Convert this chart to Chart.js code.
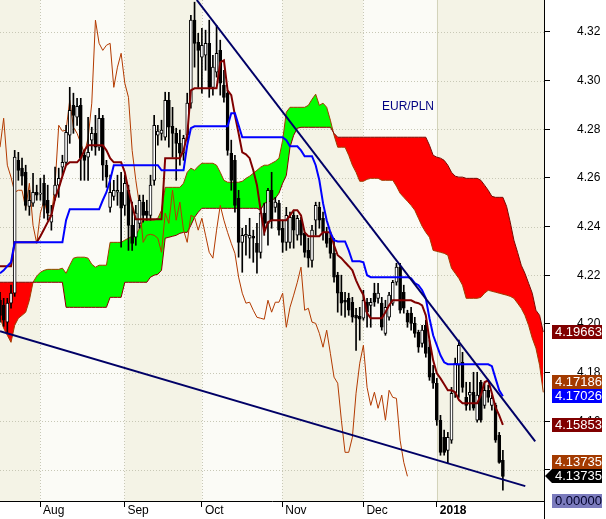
<!DOCTYPE html>
<html>
<head>
<meta charset="utf-8">
<title>EUR/PLN</title>
<script src="https://cdn.jsdelivr.net/npm/chart.js@4.4.1/dist/chart.umd.min.js"></script>
<style>
  html, body { margin: 0; padding: 0; background: #fff; }
  #wrap { width: 606px; height: 519px; }
</style>
</head>
<body>
<div id="wrap"><canvas id="chart" width="606" height="519"></canvas></div>
<script>
// ===== DATA =====
const symbol = 'EUR/PLN';
const LAG = 26; // chikou shift in bars

const monthTicks = [10.9, 33.9, 55, 76.9, 99, 119];
const monthLabels = ['Aug', 'Sep', 'Oct', 'Nov', 'Dec', '2018'];
const priceTicks = [4.14, 4.16, 4.18, 4.20, 4.22, 4.24, 4.26, 4.28, 4.30, 4.32];

const opens = [4.2097,4.2076,4.2007,4.2085,4.2126,4.2672,4.2640,4.2623,4.2483,4.2496,
  4.2541,4.2533,4.2578,4.2508,4.2418,4.2529,4.2570,4.2644,4.2664,4.2775,
  4.2898,4.2849,4.2898,4.2693,4.2685,4.2755,4.2783,4.2726,4.2845,4.2652,
  4.2479,4.2524,4.2541,4.2541,4.2487,4.2549,4.2405,4.2356,4.2413,4.2500,
  4.2463,4.2446,4.2590,4.2775,4.2783,4.2767,4.2919,4.2812,4.2783,4.2742,
  4.2701,4.2775,4.2907,4.3248,4.3157,4.3096,4.3104,4.3153,4.2972,4.3034,
  4.3124,4.2981,4.2948,4.2701,4.2672,4.2516,4.2335,4.2360,4.2352,4.2360,
  4.2331,4.2294,4.2455,4.2413,4.2549,4.2479,4.2496,4.2393,4.2335,4.2335,
  4.2446,4.2364,4.2426,4.2372,4.2302,4.2261,4.2426,4.2479,4.2434,4.2376,
  4.2352,4.2290,4.2200,4.2130,4.2097,4.2105,4.2089,4.2035,4.2031,4.2023,
  4.2089,4.2076,4.2126,4.2105,4.2085,4.1961,4.2027,4.2085,4.2171,4.2233,
  4.2130,4.2044,4.2044,4.2002,4.1965,4.1920,4.1994,4.1904,4.1797,4.1756,
  4.1604,4.1534,4.1480,4.1522,4.1715,4.1830,4.1842,4.1698,4.1707,4.1719,
  4.1604,4.1760,4.1665,4.1727,4.1665,4.1665,4.1542,4.1439];

const highs = [4.2130,4.2105,4.2105,4.2159,4.2713,4.2705,4.2681,4.2652,4.2549,4.2619,
  4.2570,4.2598,4.2611,4.2570,4.2487,4.2644,4.2640,4.2693,4.2816,4.2972,
  4.2948,4.2927,4.2927,4.2713,4.2849,4.2808,4.2857,4.2886,4.2857,4.2672,
  4.2611,4.2590,4.2611,4.2623,4.2611,4.2570,4.2500,4.2487,4.2529,4.2529,
  4.2508,4.2611,4.2857,4.2816,4.2837,4.2952,4.2952,4.2890,4.2804,4.2796,
  4.2775,4.2948,4.3268,4.3322,4.3194,4.3215,4.3207,4.3248,4.3104,4.3227,
  4.3166,4.3042,4.2960,4.2755,4.2693,4.2549,4.2393,4.2405,4.2434,4.2385,
  4.2413,4.2479,4.2496,4.2557,4.2623,4.2520,4.2508,4.2426,4.2479,4.2459,
  4.2467,4.2446,4.2438,4.2376,4.2352,4.2405,4.2500,4.2500,4.2459,4.2397,
  4.2376,4.2352,4.2212,4.2200,4.2130,4.2126,4.2109,4.2064,4.2068,4.2138,
  4.2105,4.2105,4.2167,4.2167,4.2109,4.2097,4.2130,4.2179,4.2249,4.2249,
  4.2159,4.2056,4.2068,4.2027,4.1974,4.1994,4.2015,4.1933,4.1830,4.1776,
  4.1624,4.1563,4.1554,4.1739,4.1859,4.1933,4.1883,4.1760,4.1760,4.1801,
  4.1801,4.1768,4.1756,4.1748,4.1707,4.1674,4.1554,4.1480];

const lows = [4.2007,4.1990,4.1961,4.2064,4.2113,4.2590,4.2570,4.2467,4.2446,4.2483,
  4.2508,4.2508,4.2434,4.2426,4.2385,4.2508,4.2520,4.2611,4.2652,4.2742,
  4.2783,4.2816,4.2590,4.2590,4.2590,4.2713,4.2693,4.2713,4.2590,4.2561,
  4.2459,4.2508,4.2487,4.2315,4.2446,4.2302,4.2302,4.2323,4.2393,4.2418,
  4.2426,4.2426,4.2570,4.2734,4.2755,4.2755,4.2726,4.2685,4.2590,4.2652,
  4.2672,4.2755,4.2886,4.3055,4.2972,4.2948,4.3042,4.2931,4.2940,4.3014,
  4.2940,4.2911,4.2693,4.2549,4.2459,4.2274,4.2212,4.2282,4.2270,4.2253,
  4.2208,4.2270,4.2364,4.2323,4.2393,4.2459,4.2364,4.2294,4.2302,4.2311,
  4.2311,4.2344,4.2323,4.2274,4.2233,4.2233,4.2364,4.2393,4.2344,4.2315,
  4.2270,4.2171,4.2048,4.2035,4.2027,4.2035,4.2007,4.1891,4.1933,4.2015,
  4.1986,4.1986,4.2072,4.2085,4.1974,4.1953,4.2015,4.2076,4.2159,4.2044,
  4.2044,4.1986,4.1974,4.1945,4.1883,4.1904,4.1863,4.1768,4.1735,4.1583,
  4.1460,4.1460,4.1427,4.1509,4.1698,4.1698,4.1719,4.1645,4.1645,4.1645,
  4.1596,4.1596,4.1653,4.1678,4.1645,4.1513,4.1427,4.1316];

const closes = [4.2035,4.2015,4.2085,4.2126,4.2685,4.2631,4.2607,4.2487,4.2508,4.2541,
  4.2529,4.2537,4.2487,4.2455,4.2446,4.2570,4.2598,4.2664,4.2787,4.2878,
  4.2857,4.2894,4.2681,4.2672,4.2705,4.2783,4.2726,4.2845,4.2652,4.2603,
  4.2541,4.2549,4.2549,4.2475,4.2578,4.2405,4.2331,4.2455,4.2508,4.2446,
  4.2446,4.2570,4.2816,4.2792,4.2796,4.2919,4.2808,4.2783,4.2742,4.2701,
  4.2763,4.2907,4.3248,4.3153,4.3124,4.3145,4.3153,4.2972,4.3055,4.3112,
  4.2989,4.2931,4.2713,4.2590,4.2487,4.2335,4.2364,4.2368,4.2364,4.2352,
  4.2294,4.2455,4.2413,4.2549,4.2426,4.2500,4.2385,4.2335,4.2446,4.2438,
  4.2385,4.2434,4.2364,4.2294,4.2270,4.2385,4.2487,4.2426,4.2376,4.2331,
  4.2290,4.2192,4.2126,4.2085,4.2089,4.2056,4.2027,4.2023,4.2019,4.2097,
  4.2048,4.2089,4.2089,4.2126,4.1986,4.2068,4.2118,4.2171,4.2233,4.2056,
  4.2064,4.2007,4.2002,4.1961,4.1904,4.1974,4.1879,4.1781,4.1756,4.1604,
  4.1472,4.1472,4.1534,4.1715,4.1838,4.1912,4.1739,4.1665,4.1719,4.1653,
  4.1707,4.1604,4.1727,4.1698,4.1694,4.1522,4.1431,4.13735];

const tenkan = [4.2237,4.2237,4.2237,4.2237,4.2335,4.2335,4.2335,4.2335,4.2335,4.2335,
  4.2335,4.2360,4.2389,4.2418,4.2446,4.2516,4.2557,4.2607,4.2652,4.2664,
  4.2664,4.2664,4.2681,4.2713,4.2734,4.2734,4.2734,4.2734,4.2734,4.2713,
  4.2681,4.2664,4.2664,4.2664,4.2623,4.2549,4.2487,4.2430,4.2430,4.2430,
  4.2430,4.2430,4.2430,4.2430,4.2430,4.2681,4.2681,4.2681,4.2681,4.2681,
  4.2713,4.2775,4.2960,4.2968,4.2968,4.2968,4.2968,4.2968,4.2968,4.2968,
  4.3075,4.3083,4.2960,4.2940,4.2857,4.2783,4.2705,4.2697,4.2681,4.2631,
  4.2570,4.2467,4.2376,4.2418,4.2426,4.2426,4.2426,4.2426,4.2426,4.2446,
  4.2467,4.2467,4.2446,4.2376,4.2360,4.2360,4.2360,4.2360,4.2376,4.2376,
  4.2376,4.2323,4.2282,4.2270,4.2253,4.2237,4.2220,4.2179,4.2146,4.2118,
  4.2044,4.2023,4.2023,4.2023,4.2023,4.2048,4.2076,4.2097,4.2097,4.2097,
  4.2097,4.2097,4.2097,4.2089,4.2085,4.2076,4.2035,4.1933,4.1850,4.1797,
  4.1776,4.1752,4.1727,4.1727,4.1719,4.1688,4.1674,4.1674,4.1674,4.1674,
  4.1674,4.1707,4.1760,4.1768,4.1715,4.1657,4.1624,4.15853];

const kijun = [4.2208,4.2220,4.2237,4.2253,4.2335,4.2335,4.2335,4.2335,4.2335,4.2335,
  4.2335,4.2335,4.2335,4.2335,4.2335,4.2335,4.2335,4.2335,4.2426,4.2471,
  4.2471,4.2471,4.2471,4.2471,4.2471,4.2471,4.2471,4.2471,4.2508,4.2541,
  4.2590,4.2652,4.2652,4.2652,4.2652,4.2652,4.2652,4.2652,4.2652,4.2652,
  4.2652,4.2652,4.2652,4.2652,4.2631,4.2631,4.2631,4.2631,4.2631,4.2631,
  4.2631,4.2734,4.2804,4.2812,4.2812,4.2812,4.2812,4.2812,4.2812,4.2812,
  4.2812,4.2812,4.2812,4.2866,4.2866,4.2816,4.2767,4.2767,4.2767,4.2767,
  4.2767,4.2767,4.2767,4.2767,4.2767,4.2767,4.2767,4.2767,4.2755,4.2730,
  4.2730,4.2730,4.2713,4.2689,4.2689,4.2689,4.2652,4.2590,4.2496,4.2426,
  4.2376,4.2344,4.2339,4.2339,4.2339,4.2302,4.2257,4.2257,4.2257,4.2253,
  4.2200,4.2192,4.2192,4.2192,4.2192,4.2192,4.2192,4.2192,4.2192,4.2192,
  4.2192,4.2192,4.2187,4.2167,4.2159,4.2138,4.2105,4.2023,4.1953,4.1912,
  4.1871,4.1842,4.1834,4.1834,4.1834,4.1834,4.1834,4.1834,4.1834,4.1834,
  4.1834,4.1834,4.1834,4.1834,4.1826,4.1776,4.1727,4.17026];

const senkouA = [4.2027,4.1982,4.1953,4.1924,4.1994,4.2023,4.2035,4.2048,4.2097,4.2171,
  4.2196,4.2212,4.2220,4.2224,4.2224,4.2224,4.2224,4.2229,4.2208,4.2241,
  4.2270,4.2274,4.2274,4.2274,4.2270,4.2245,4.2233,4.2241,4.2241,4.2241,
  4.2335,4.2335,4.2335,4.2335,4.2344,4.2352,4.2360,4.2364,4.2393,4.2426,
  4.2426,4.2426,4.2426,4.2434,4.2467,4.2561,4.2561,4.2561,4.2561,4.2561,
  4.2578,4.2623,4.2640,4.2631,4.2648,4.2660,4.2660,4.2660,4.2660,4.2652,
  4.2623,4.2590,4.2582,4.2582,4.2582,4.2582,4.2586,4.2598,4.2607,4.2619,
  4.2631,4.2644,4.2652,4.2652,4.2660,4.2668,4.2681,4.2755,4.2870,4.2890,
  4.2890,4.2890,4.2890,4.2890,4.2898,4.2923,4.2944,4.2898,4.2907,4.2890,
  4.2837,4.2775,4.2726,4.2726,4.2726,4.2693,4.2652,4.2623,4.2586,4.2586,
  4.2594,4.2598,4.2598,4.2598,4.2590,4.2590,4.2590,4.2590,4.2566,4.2537,
  4.2520,4.2504,4.2487,4.2467,4.2434,4.2401,4.2376,4.2356,4.2302,4.2298,
  4.2294,4.2290,4.2282,4.2229,4.2208,4.2187,4.2159,4.2105,4.2105,4.2105,
  4.2105,4.2109,4.2126,4.2138,4.2134,4.2130,4.2126,4.2122,4.2118,4.2113,
  4.2105,4.2085,4.2064,4.2035,4.1994,4.1941,4.1900,4.1830,4.17186];

const senkouB = [4.2171,4.2171,4.2171,4.2171,4.2171,4.2171,4.2171,4.2171,4.2171,4.2171,
  4.2171,4.2171,4.2171,4.2171,4.2171,4.2171,4.2171,4.2171,4.2068,4.2068,
  4.2068,4.2068,4.2068,4.2068,4.2068,4.2068,4.2068,4.2068,4.2068,4.2068,
  4.2109,4.2109,4.2109,4.2109,4.2171,4.2171,4.2171,4.2171,4.2171,4.2171,
  4.2171,4.2192,4.2200,4.2204,4.2220,4.2352,4.2356,4.2360,4.2364,4.2372,
  4.2376,4.2376,4.2405,4.2438,4.2459,4.2475,4.2475,4.2475,4.2475,4.2475,
  4.2475,4.2475,4.2475,4.2475,4.2475,4.2475,4.2475,4.2475,4.2475,4.2475,
  4.2475,4.2467,4.2496,4.2500,4.2508,4.2516,4.2537,4.2578,4.2610,4.2726,
  4.2775,4.2804,4.2808,4.2808,4.2808,4.2808,4.2808,4.2808,4.2808,4.2808,
  4.2808,4.2783,4.2767,4.2767,4.2767,4.2767,4.2767,4.2767,4.2767,4.2767,
  4.2767,4.2767,4.2767,4.2767,4.2767,4.2767,4.2767,4.2767,4.2767,4.2767,
  4.2767,4.2767,4.2767,4.2767,4.2767,4.2767,4.2767,4.2734,4.2693,4.2685,
  4.2681,4.2672,4.2652,4.2623,4.2607,4.2603,4.2603,4.2598,4.2598,4.2598,
  4.2598,4.2590,4.2570,4.2549,4.2524,4.2520,4.2520,4.2520,4.2483,4.2418,
  4.2344,4.2294,4.2241,4.2208,4.2167,4.2126,4.2056,4.2035,4.19663];

const trendUpper = [[53.6, 4.3331], [145.8, 4.1517]];
const trendLower = [[0, 4.1970], [143.1, 4.1333]];
const lastVolume = 0;

// ===== CHART =====
const FONT = "'Liberation Sans', Arial, sans-serif";
Chart.defaults.font.family = FONT;
Chart.defaults.font.size = 12;
Chart.defaults.color = '#000';

const pts = arr => arr.map((v, i) => ({ x: i, y: v }));
const last = arr => arr[arr.length - 1];

const sideLabels = [
  { value: last(senkouB), bg: '#800000', fg: '#fff' },
  { value: last(senkouA), bg: '#a33a00', fg: '#fff' },
  { value: last(kijun), bg: '#0000ff', fg: '#fff' },
  { value: last(tenkan), bg: '#800000', fg: '#fff' },
  { value: last(closes), bg: '#a33a00', fg: '#fff' },
  { value: last(closes), bg: '#000000', fg: '#fff', arrow: true },
  { value: lastVolume, bg: '#7b7bbd', fg: '#00002a' }
];

const backdrop = {
  id: 'backdrop',
  beforeDraw(chart) {
    const { ctx, chartArea: a, scales: { x, y } } = chart;
    ctx.save();
    const edges = [x.min, ...monthTicks, x.max];
    for (let i = 0; i < edges.length - 1; i++) {
      const x0 = x.getPixelForValue(edges[i]);
      const x1 = x.getPixelForValue(edges[i + 1]);
      ctx.fillStyle = i % 2 ? '#fbfbf6' : '#f4f3e6';
      ctx.fillRect(x0, a.top, x1 - x0, a.bottom - a.top);
    }
    ctx.strokeStyle = '#c8c8b6';
    ctx.lineWidth = 1;
    ctx.setLineDash([1, 2]);
    ctx.beginPath();
    priceTicks.forEach(v => {
      const py = Math.round(y.getPixelForValue(v)) + 0.5;
      ctx.moveTo(a.left, py);
      ctx.lineTo(a.right, py);
    });
    monthTicks.slice(0, -1).forEach(v => {
      const px = Math.round(x.getPixelForValue(v)) + 0.5;
      ctx.moveTo(px, a.top);
      ctx.lineTo(px, a.bottom);
    });
    ctx.stroke();
    // year boundary is a solid line
    ctx.setLineDash([]);
    ctx.strokeStyle = '#d3d3ba';
    const yb = Math.round(x.getPixelForValue(last(monthTicks))) + 0.5;
    ctx.beginPath();
    ctx.moveTo(yb, a.top);
    ctx.lineTo(yb, a.bottom);
    ctx.stroke();

    ctx.fillStyle = '#000080';
    ctx.font = '12px ' + FONT;
    ctx.fillText(symbol, a.left + 382, a.top + 110);
    ctx.restore();
  },
  afterDraw(chart) {
    const { ctx, chartArea: a, scales: { y } } = chart;
    ctx.save();
    // axis line runs down to the bottom edge
    ctx.strokeStyle = '#000';
    ctx.lineWidth = 1;
    ctx.beginPath();
    ctx.moveTo(Math.round(a.right) + 0.5, a.bottom);
    ctx.lineTo(Math.round(a.right) + 0.5, chart.height);
    ctx.stroke();

    const items = sideLabels.map(l => ({ ...l, cy: Math.min(y.getPixelForValue(l.value), a.bottom) }));
    for (let i = items.length - 2; i >= 0; i--) {
      items[i].cy = Math.min(items[i].cy, items[i + 1].cy - 14.5);
    }
    const bx = Math.round(a.right) + 8, bw = 50, bh = 14;
    ctx.font = '13px ' + FONT;
    ctx.textBaseline = 'middle';
    items.forEach(it => {
      const top = Math.round(it.cy - bh / 2);
      ctx.fillStyle = it.bg;
      ctx.beginPath();
      if (it.arrow) {
        ctx.moveTo(Math.round(a.right) + 1, top + bh / 2);
        ctx.lineTo(bx, top);
        ctx.lineTo(bx + bw, top);
        ctx.lineTo(bx + bw, top + bh);
        ctx.lineTo(bx, top + bh);
        ctx.closePath();
      } else {
        ctx.rect(bx, top, bw, bh);
      }
      ctx.fill();
      ctx.fillStyle = it.fg;
      ctx.fillText(it.value.toFixed(5), bx + 3, top + bh / 2 + 0.5);
    });
    ctx.restore();
  }
};

new Chart(document.getElementById('chart'), {
  type: 'line',
  data: {
    datasets: [
      {
        label: 'Senkou A', data: pts(senkouA),
        borderColor: '#a33a00', borderWidth: 1, pointRadius: 0,
        fill: { target: '+1', above: '#00ff00', below: '#ff0000' },
        order: 7
      },
      {
        label: 'Senkou B', data: pts(senkouB),
        borderColor: '#800000', borderWidth: 1, pointRadius: 0, fill: false,
        order: 6
      },
      {
        label: 'Chikou', data: closes.slice(LAG).map((c, i) => ({ x: i, y: c })),
        borderColor: '#b33a00', borderWidth: 1, pointRadius: 0, fill: false,
        order: 5
      },
      {
        type: 'bar', label: 'Range',
        data: lows.map((l, i) => ({ x: i, y: [l, highs[i]] })),
        backgroundColor: '#000', borderWidth: 0, barThickness: 1, grouped: false,
        order: 4
      },
      {
        type: 'bar', label: 'Body',
        data: opens.map((o, i) => ({ x: i, y: [o, closes[i]] })),
        backgroundColor: opens.map((o, i) => closes[i] >= o ? '#ffffff' : '#000000'),
        borderColor: '#000', borderWidth: 1, borderSkipped: false,
        barThickness: 3, grouped: false, minBarLength: 1,
        order: 3
      },
      {
        label: 'Tenkan', data: pts(tenkan),
        borderColor: '#800000', borderWidth: 2, pointRadius: 0, fill: false,
        order: 2
      },
      {
        label: 'Kijun', data: pts(kijun),
        borderColor: '#0000ff', borderWidth: 2, pointRadius: 0, fill: false,
        order: 1
      },
      {
        label: 'Trend high', data: trendUpper.map(([x, y]) => ({ x, y })),
        borderColor: '#000066', borderWidth: 2, pointRadius: 0, fill: false,
        order: 0
      },
      {
        label: 'Trend low', data: trendLower.map(([x, y]) => ({ x, y })),
        borderColor: '#000066', borderWidth: 2, pointRadius: 0, fill: false,
        order: 0
      }
    ]
  },
  options: {
    responsive: false,
    animation: false,
    devicePixelRatio: 1,
    events: [],
    layout: { padding: 0 },
    elements: { line: { tension: 0 } },
    plugins: {
      legend: { display: false },
      tooltip: { enabled: false },
      filler: { propagate: false }
    },
    scales: {
      x: {
        type: 'linear',
        min: 0,
        max: 148.2,
        offset: false,
        border: { display: true, color: '#000' },
        grid: { drawOnChartArea: false, drawTicks: true, tickLength: 6, color: '#000', offset: false },
        ticks: {
          autoSkip: false,
          maxRotation: 0,
          align: 'start',
          labelOffset: 3,
          padding: -4,
          color: '#000',
          font: c => ({ family: FONT, size: 12, weight: c.index === monthLabels.length - 1 ? 'bold' : 'normal' }),
          callback: (v, i) => monthLabels[i]
        },
        afterBuildTicks: s => { s.ticks = monthTicks.map(v => ({ value: v })); },
        afterFit: s => { s.height = 18; s.paddingLeft = 0; s.paddingRight = 0; }
      },
      y: {
        position: 'right',
        min: 4.1272,
        max: 4.3331,
        border: { display: true, color: '#000' },
        grid: { drawOnChartArea: false, drawTicks: true, tickLength: 6, color: '#000' },
        ticks: {
          padding: 27,
          color: '#000',
          font: { family: FONT, size: 12 },
          callback: v => v.toFixed(2)
        },
        afterBuildTicks: s => { s.ticks = priceTicks.map(v => ({ value: v })); },
        afterFit: s => { s.width = 62; s.paddingTop = 0; s.paddingBottom = 0; }
      }
    }
  },
  plugins: [backdrop]
});
</script>
</body>
</html>
